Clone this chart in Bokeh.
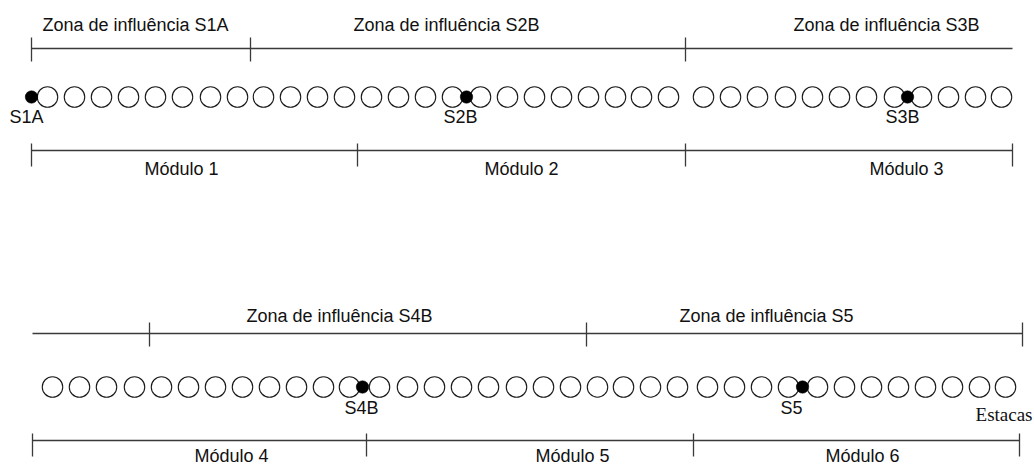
from bokeh.plotting import figure
from bokeh.models import Range1d
from bokeh.embed import file_html
from bokeh.resources import INLINE
from bokeh.core.properties import value

# ---------------- data (schematic stations along the pile wall) ----------------
# pile (estaca) stations, upper row (modules 1-3) and lower row (modules 4-6)
piles_top = [47, 74, 101, 128, 155, 182, 210, 237, 263, 290, 317, 344,
             371, 398, 425, 452, 480, 507, 534, 561, 588, 615, 641, 668,
             703, 730, 757, 785, 812, 839, 866, 894, 921, 948, 975, 1001]
piles_bottom = [52, 79, 106, 134, 161, 188, 215, 242, 269, 296, 323, 349,
                379, 407, 434, 461, 488, 516, 543, 570, 597, 623, 650, 677,
                707, 734, 761, 788, 817, 844, 871, 898, 925, 952, 979, 1005]

# sensors
sensor_names = ["S1A", "S2B", "S3B", "S4B", "S5"]
sensor_x = [31, 466, 907, 362, 802]
sensor_row = [0, 0, 0, 1, 1]

# modules
module_names = ["Módulo 1", "Módulo 2", "Módulo 3", "Módulo 4", "Módulo 5", "Módulo 6"]
module_bounds_top = [31, 357, 685, 1012]
module_bounds_bottom = [32, 366, 693, 1019]

# zones of influence
zone_names = ["Zona de influência S1A", "Zona de influência S2B", "Zona de influência S3B",
              "Zona de influência S4B", "Zona de influência S5"]
zone_extent_top = [31, 1012]
zone_ticks_top = [31, 250, 685]
zone_extent_bottom = [32, 1022]
zone_ticks_bottom = [149, 586, 1022]

# ---------------- layout ----------------
ROW_Y = [96.5, 386.5]          # pile rows
ZONE_Y = [48, 333]             # zone lines
MOD_Y = [150, 440]             # module lines
zone_tick_span = (-11, 13)
mod_tick_span = (-7, 16)

TXT_DY = -7
zone_label_x = [42, 353, 793, 246, 679]
zone_label_y = [31 + TXT_DY] * 3 + [322 + TXT_DY] * 2
module_label_x = [144, 484, 869, 194, 535, 825]
module_label_y = [175 + TXT_DY] * 3 + [462 + TXT_DY] * 3
sensor_label_x = [9, 443, 885, 344, 780]
sensor_label_y = [123 + TXT_DY] * 3 + [414 + TXT_DY] * 2

LINE = "#3a3a3a"
INK = "#111111"
FONT = value("Liberation Sans")

W, H = 1034, 465
p = figure(width=W, height=H, output_backend="svg", toolbar_location=None, tools="",
           x_range=Range1d(0, W), y_range=Range1d(H, 0),
           x_axis_location=None, y_axis_location=None, min_border=0)
p.xgrid.visible = False
p.ygrid.visible = False
p.outline_line_color = None
p.background_fill_color = "white"
p.border_fill_color = "white"

# horizontal lines
hx0 = [zone_extent_top[0], zone_extent_bottom[0], module_bounds_top[0], module_bounds_bottom[0]]
hx1 = [zone_extent_top[1], zone_extent_bottom[1], module_bounds_top[-1], module_bounds_bottom[-1]]
hy = [ZONE_Y[0], ZONE_Y[1], MOD_Y[0], MOD_Y[1]]
p.segment(x0=hx0, y0=hy, x1=hx1, y1=hy, line_color=LINE, line_width=1.3)

# tick marks
tx, ty0, ty1 = [], [], []
for xs, yl, span in [(zone_ticks_top, ZONE_Y[0], zone_tick_span),
                     (zone_ticks_bottom, ZONE_Y[1], zone_tick_span),
                     (module_bounds_top, MOD_Y[0], mod_tick_span),
                     (module_bounds_bottom, MOD_Y[1], mod_tick_span)]:
    for x in xs:
        tx.append(x)
        ty0.append(yl + span[0])
        ty1.append(yl + span[1])
p.segment(x0=tx, y0=ty0, x1=tx, y1=ty1, line_color=LINE, line_width=1.3)

# piles
p.scatter(x=piles_top, y=[ROW_Y[0]] * len(piles_top), marker="circle", size=20.5,
          fill_color="white", line_color="#1a1a1a", line_width=1.1)
p.scatter(x=piles_bottom, y=[ROW_Y[1]] * len(piles_bottom), marker="circle", size=20.5,
          fill_color="white", line_color="#1a1a1a", line_width=1.1)

# sensors
p.scatter(x=sensor_x, y=[ROW_Y[r] for r in sensor_row], marker="circle", size=12.5,
          fill_color="black", line_color="black", line_width=0.5)

# texts
p.text(x=zone_label_x, y=zone_label_y, text=zone_names, text_font=FONT,
       text_font_size="18px", text_color=INK, text_align="left", text_baseline="alphabetic")
p.text(x=module_label_x, y=module_label_y, text=module_names, text_font=FONT,
       text_font_size="18px", text_color=INK, text_align="left", text_baseline="alphabetic")
p.text(x=sensor_label_x, y=sensor_label_y, text=sensor_names, text_font=FONT,
       text_font_size="18px", text_color=INK, text_align="left", text_baseline="alphabetic")
p.text(x=[1032], y=[421 + TXT_DY], text=["Estacas"], text_font=value("Liberation Serif"),
       text_font_size="19px", text_color=INK, text_align="right", text_baseline="alphabetic")

open("out.html", "w").write(file_html(p, INLINE))
